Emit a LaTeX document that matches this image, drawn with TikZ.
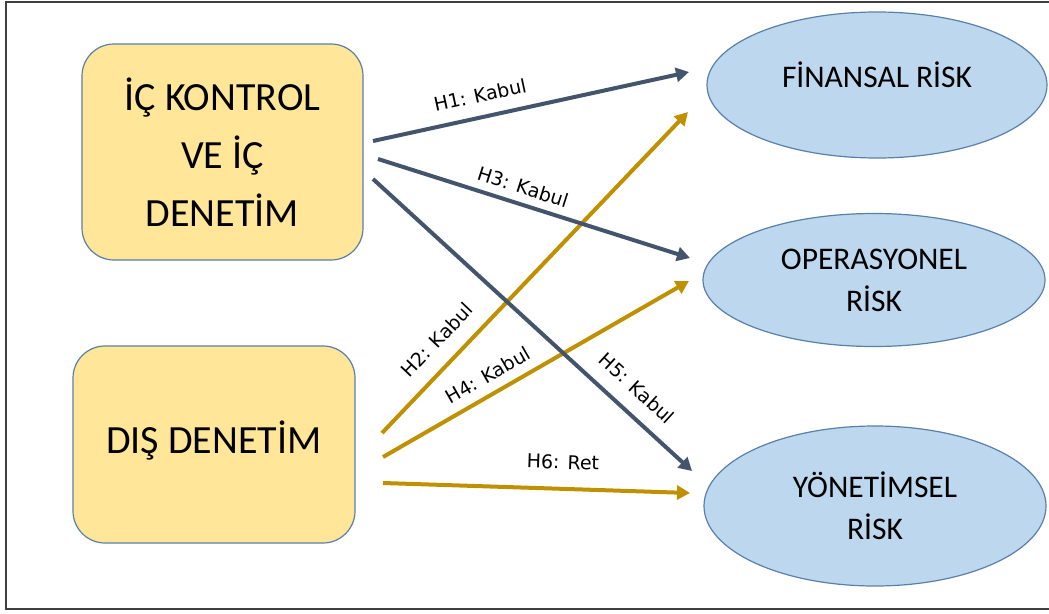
\documentclass[tikz,border=0pt]{standalone}
\usepackage{fontspec}
\setmainfont{Carlito}
\newfontfamily\lblfont{DejaVu Sans}
\usetikzlibrary{arrows.meta,shapes.geometric}
\definecolor{darkarr}{HTML}{44546A}
\definecolor{goldarr}{HTML}{BF9000}
\definecolor{boxfill}{HTML}{FFE699}
\definecolor{ellfill}{HTML}{BDD7EE}
\definecolor{edgeblue}{HTML}{5A80A8}
\definecolor{framecol}{HTML}{404040}
\tikzset{
  srcbox/.style={draw=edgeblue, line width=1.2pt, fill=boxfill, rounded corners=32pt,
    align=center, font=\fontsize{40}{58}\selectfont, inner sep=0pt},
  riskell/.style={ellipse, draw=edgeblue, line width=1.2pt, fill=ellfill, inner sep=0pt,
    align=center, font=\fontsize{31.5}{42}\selectfont},
  darkline/.style={draw=darkarr, line width=4pt, -{Triangle[length=13pt,width=14pt]}},
  goldline/.style={draw=goldarr, line width=4pt, -{Triangle[length=13pt,width=14pt]}},
  hlabel/.style={font=\lblfont\fontsize{19}{22}\selectfont, text=black, inner sep=0pt}
}
\begin{document}
\begin{tikzpicture}[x=1pt,y=-1pt]
\useasboundingbox (0,0) rectangle (1049,613);
\clip (0,0) rectangle (1049,613);
\draw[framecol, line width=2pt] (6,1.5) rectangle (1070,608.5);

% source boxes
\node[srcbox, minimum width=281pt, minimum height=216pt] (b1) at (222.5,152) {İÇ KONTROL\\VE İÇ\\DENETİM};
\node[srcbox, minimum width=282pt, minimum height=197pt, text depth=14pt] (b2) at (214,444.5) {DIŞ DENETİM};

% risk ellipses
\node[riskell, minimum width=340pt, minimum height=146pt, text depth=20pt] (e1) at (877,85) {FİNANSAL RİSK};
\node[riskell, minimum width=342pt, minimum height=133pt] (e2) at (874,280) {OPERASYONEL\\RİSK};
\node[riskell, minimum width=342pt, minimum height=160pt] (e3) at (875,506) {YÖNETİMSEL\\RİSK};

% connector ends
\coordinate (s1) at (373,141);  \coordinate (t1) at (689,72);
\coordinate (s3) at (378,159);  \coordinate (t3) at (690,258);
\coordinate (s5) at (373,179);  \coordinate (t5) at (692,471);
\coordinate (s2) at (382,433);  \coordinate (t2) at (688,112);
\coordinate (s4) at (383,457);  \coordinate (t4) at (689,281);
\coordinate (s6) at (383,483);  \coordinate (t6) at (690,493);

\draw[goldline] (s2) -- (t2);
\draw[goldline] (s4) -- (t4);
\draw[goldline] (s6) -- (t6);
\draw[darkline] (s1) -- (t1);
\draw[darkline] (s3) -- (t3);
\draw[darkline] (s5) -- (t5);

% labels
\node[hlabel, rotate=12.3] (l1) at (480,95) {H1: Kabul};
\node[hlabel, rotate=-17.6] (l3) at (523,187) {H3: Kabul};
\node[hlabel, rotate=46.4] (l2) at (437,340) {H2: Kabul};
\node[hlabel, rotate=29.9] (l4) at (488,375) {H4: Kabul};
\node[hlabel, rotate=-42.5] (l5) at (637,388) {H5: Kabul};
\node[hlabel, rotate=-1.9] (l6) at (563,462) {H6: Ret};
\end{tikzpicture}
\end{document}
